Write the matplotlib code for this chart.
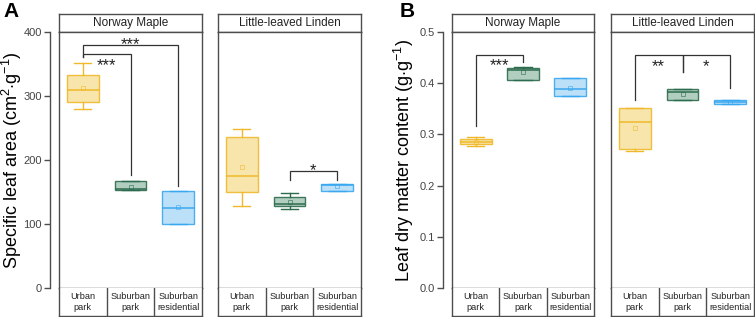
import matplotlib
matplotlib.use('Agg')
from matplotlib import pyplot as plt

plt.rcParams['font.family'] = ['Liberation Sans', 'DejaVu Sans']
plt.rcParams['mathtext.fontset'] = 'custom'
plt.rcParams['mathtext.rm'] = 'Liberation Sans'
plt.rcParams['mathtext.it'] = 'Liberation Sans:italic'

# Data: [whislo, q1, median, q3, whishi]
species = ['Norway Maple', 'Little-leaved Linden']
groups = [('Urban', 'park'), ('Suburban', 'park'), ('Suburban', 'residential')]

sla_maple = [[280, 291, 309, 333, 351], [153, 153, 155, 167, 167], [100, 100, 124.5, 152, 152]]
sla_maple_mean = [313, 158, 126]
sla_linden = [[128.5, 150.5, 175.5, 235.5, 248], [123, 128, 131, 142.7, 148], [152, 152, 161, 163, 163]]
sla_linden_mean = [188.5, 135, 159]

ldmc_maple = [[0.278, 0.2807, 0.2858, 0.2904, 0.2943], [0.406, 0.406, 0.4252, 0.430, 0.431],
              [0.3756, 0.3756, 0.388, 0.4107, 0.4107]]
ldmc_maple_mean = [0.286, 0.4225, 0.391]
ldmc_linden = [[0.2676, 0.272, 0.324, 0.351, 0.351], [0.367, 0.367, 0.382, 0.388, 0.388],
               [0.359, 0.359, 0.3627, 0.367, 0.367]]
ldmc_linden_mean = [0.313, 0.378, 0.363]

# significance brackets: (x1, x2, y_line, y_left, y_right, label, label side)
sla_maple_sig = [(0, 1, 366, 361, 176, '***', 'below'), (0, 2, 380, 361, 160, '***', 'above')]
sla_linden_sig = [(1, 2, 183, 168, 168, '*', 'above')]
ldmc_maple_sig = [(0, 1, 0.456, 0.316, 0.441, '***', 'below')]
ldmc_linden_sig = [(0, 1, 0.455, 0.367, 0.4225, '**', 'below'), (1, 2, 0.455, 0.4225, 0.39, '*', 'below')]

edge_colors = ['#F0B92A', '#2D6B4E', '#3AA8F0']
fill_colors = ['#F8E3A3', '#A9C9B9', '#B5DDF8']
frame_col = '#4d4d4d'

W, H = 755, 317
fig = plt.figure(figsize=(W / 100, H / 100), dpi=100)


def px_axes(x0, y0, x1, y1):
    return fig.add_axes([x0 / W, (H - y1) / H, (x1 - x0) / W, (y1 - y0) / H])


def frame(ax):
    for s in ax.spines.values():
        s.set_color(frame_col)
        s.set_linewidth(1.0)
    ax.set_xticks([])
    ax.set_yticks([])


def draw_facet(x0, x1, title, boxes, means, sigs, ylim):
    # strip header
    hs = px_axes(x0, 14, x1, 32)
    frame(hs)
    hs.text(0.5, 0.5, title, ha='center', va='center', fontsize=8.5, color='#222222')

    ax = px_axes(x0, 32, x1, 288)
    frame(ax)
    ax.set_xlim(-0.5, 2.5)
    ax.set_ylim(*ylim)
    stats = []
    for b, m in zip(boxes, means):
        stats.append(dict(whislo=b[0], q1=b[1], med=b[2], q3=b[3], whishi=b[4], mean=m, fliers=[]))
    for i, st in enumerate(stats):
        c = edge_colors[i]
        ax.bxp([st], positions=[i], widths=0.67, capwidths=0.36, patch_artist=True, showmeans=True,
               manage_ticks=False,
               boxprops=dict(facecolor=fill_colors[i], edgecolor=c, linewidth=1.0, alpha=0.9),
               medianprops=dict(color=c, linewidth=1.1),
               whiskerprops=dict(color=c, linewidth=1.0),
               capprops=dict(color=c, linewidth=1.0),
               meanprops=dict(marker='s', markersize=3.5, markerfacecolor='none',
                              markeredgecolor=c, markeredgewidth=0.5, alpha=0.8))
    ax.set_xticks([])
    ax.set_yticks([])
    for x1b, x2b, yl, ya, yb, lab, side in sigs:
        ax.plot([x1b, x1b, x2b, x2b], [ya, yl, yl, yb], color='#333333', lw=0.9, solid_joinstyle='miter')
        if side == 'above':
            off = -3
        else:
            off = -11.5
        ax.annotate(lab, ((x1b + x2b) / 2, yl), xytext=(0, off), textcoords='offset points',
                    ha='center', va='baseline', fontsize=12, color='#222222')

    # category labels
    cs = px_axes(x0, 288, x1, 316)
    frame(cs)
    cs.spines['top'].set_visible(False)
    cs.set_xlim(-0.5, 2.5)
    cs.set_ylim(0, 1)
    for v in (0.5, 1.5):
        cs.axvline(v, color=frame_col, lw=1.0)
    for i, (l1, l2) in enumerate(groups):
        cs.text(i, 0.71, l1, ha='center', va='center', fontsize=6.6, color='#222222')
        cs.text(i, 0.29, l2, ha='center', va='center', fontsize=6.6, color='#222222')
    return ax


def draw_yaxis(x, ylim, ticks, labels, ylabel, label_x, letter, letter_x):
    ya = px_axes(x, 32, x + 1, 288)
    ya.set_facecolor('none')
    for k in ('top', 'right', 'bottom'):
        ya.spines[k].set_visible(False)
    ya.spines['left'].set_color(frame_col)
    ya.spines['left'].set_linewidth(1.0)
    ya.set_xticks([])
    ya.set_ylim(*ylim)
    ya.set_yticks(ticks)
    ya.set_yticklabels(labels)
    ya.tick_params(axis='y', direction='out', length=4, width=1.0, color=frame_col,
                   labelsize=8, labelcolor='#444444', pad=2)
    fig.text(label_x / W, (H - 160) / H, ylabel, rotation=90, ha='center', va='center', fontsize=13)
    fig.text(letter_x / W, 1 - 2 / H, letter, ha='left', va='top', fontsize=15, fontweight='bold')


# Panel A
draw_yaxis(50, (0, 400), [0, 100, 200, 300, 400], ['0', '100', '200', '300', '400'],
           'Specific leaf area (cm$^{2}$$\\cdot$g$^{-1}$)', 12, 'A', 3)
draw_facet(59, 202, species[0], sla_maple, sla_maple_mean, sla_maple_sig, (0, 400))
draw_facet(218, 361, species[1], sla_linden, sla_linden_mean, sla_linden_sig, (0, 400))

# Panel B
draw_yaxis(443, (0, 0.5), [0, 0.1, 0.2, 0.3, 0.4, 0.5], ['0.0', '0.1', '0.2', '0.3', '0.4', '0.5'],
           'Leaf dry matter content (g$\\cdot$g$^{-1}$)', 404, 'B', 400)
draw_facet(452, 594, species[0], ldmc_maple, ldmc_maple_mean, ldmc_maple_sig, (0, 0.5))
draw_facet(611, 754, species[1], ldmc_linden, ldmc_linden_mean, ldmc_linden_sig, (0, 0.5))

fig.savefig('out.png', dpi=100)
